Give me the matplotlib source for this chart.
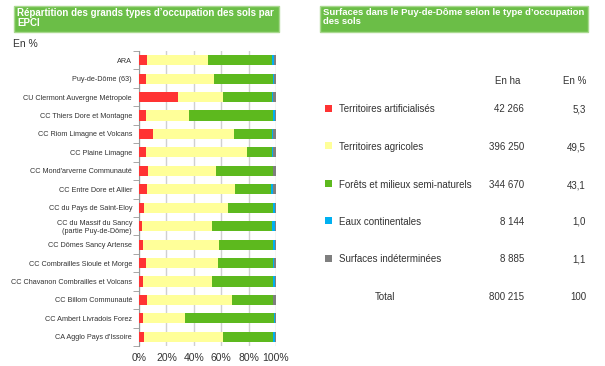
import numpy as np
import matplotlib.pyplot as plt
from matplotlib.patches import Rectangle

plt.rcParams['font.family'] = ['Liberation Sans', 'DejaVu Sans']

# EPCI labels (top to bottom)
epci = ["ARA", "Puy-de-Dôme (63)", "CU Clermont Auvergne Métropole",
        "CC Thiers Dore et Montagne", "CC Riom Limagne et Volcans",
        "CC Plaine Limagne", "CC Mond'arverne Communauté",
        "CC Entre Dore et Allier", "CC du Pays de Saint-Eloy",
        "CC du Massif du Sancy\n(partie Puy-de-Dôme)", "CC Dômes Sancy Artense",
        "CC Combrailles Sioule et Morge", "CC Chavanon Combrailles et Volcans",
        "CC Billom Communauté", "CC Ambert Livradois Forez",
        "CA Agglo Pays d'Issoire"]

# shares in %
artif = [5.6, 5.3, 28.8, 4.9, 10.2, 5.1, 6.8, 6.1, 3.7, 2.4, 3.2, 5.1, 3.2, 5.6, 2.9, 3.7]
agri = [44.4, 49.5, 32.2, 31.7, 58.8, 73.9, 49.3, 63.7, 61.4, 51.0, 55.1, 52.2, 50.2, 62.4, 30.8, 57.3]
foret = [46.8, 43.1, 35.8, 61.4, 28.1, 18.1, 41.5, 26.8, 32.9, 43.4, 39.7, 40.3, 44.6, 29.6, 65.1, 37.0]
eaux = [1.7, 1.0, 0.8, 1.3, 0.5, 0.5, 0.4, 1.4, 1.3, 2.7, 1.0, 0.7, 1.3, 0.4, 0.7, 1.0]
indet = [1.5, 1.1, 2.4, 0.7, 2.4, 2.4, 2.0, 2.0, 0.7, 0.5, 1.0, 1.7, 0.7, 2.0, 0.5, 1.0]

# table for Puy-de-Dôme
types = ["Territoires artificialisés", "Territoires agricoles",
         "Forêts et milieux semi-naturels", "Eaux continentales",
         "Surfaces indéterminées"]
surf_ha = ["42 266", "396 250", "344 670", "8 144", "8 885"]
surf_pct = ["5,3", "49,5", "43,1", "1,0", "1,1"]
total_ha = "800 215"
total_pct = "100"

colors = ["#FF3333", "#FFFF99", "#5DB91E", "#00B0F0", "#7F7F7F"]
title_green = "#6BBE47"
txt = "#333333"

W, H = 605, 366
fig = plt.figure(figsize=(W / 100, H / 100), dpi=100)

def fx(px):
    return px / W

def fy(py):
    return 1 - py / H

# left axes
ax = fig.add_axes([fx(139), fy(346), fx(276) - fx(139), fy(51) - fy(346)])
y = np.arange(len(epci))
left = np.zeros(len(epci))
for vals, c in zip([artif, agri, foret, eaux, indet], colors):
    ax.barh(y, vals, left=left, height=0.55, color=c, zorder=3)
    left += np.array(vals)

ax.set_xlim(0, 100)
ax.set_ylim(len(epci) - 0.5, -0.5)
ax.set_xticks(np.arange(0, 101, 20))
ax.set_xticklabels([f"{v}%" for v in range(0, 101, 20)], fontsize=7.5, color=txt)
ax.set_yticks(y)
ax.set_yticklabels(epci, fontsize=5.2, color=txt)
ax.set_yticks(np.arange(-0.5, len(epci), 1), minor=True)
ax.tick_params(axis='y', which='major', length=0, pad=5)
ax.tick_params(axis='y', which='minor', length=4, color="#999999")
ax.tick_params(axis='x', length=0, pad=5)
ax.grid(axis='x', color="#D0D0D0", linewidth=1, zorder=0)
for s in ["top", "right", "bottom"]:
    ax.spines[s].set_visible(False)
ax.spines["left"].set_color("#999999")

# title boxes
fig.patches.append(Rectangle((fx(14), fy(32)), fx(279) - fx(14), fy(6) - fy(32),
                             transform=fig.transFigure, facecolor=title_green,
                             edgecolor="#A9D98F", linewidth=1))
fig.text(fx(17), fy(8), "Répartition des grands types d\u2019occupation des sols par\nEPCI",
         fontsize=7.0, color="white", fontweight="bold", va="top", linespacing=1.0)
fig.patches.append(Rectangle((fx(320), fy(32)), fx(588) - fx(320), fy(6) - fy(32),
                             transform=fig.transFigure, facecolor=title_green,
                             edgecolor="#A9D98F", linewidth=1))
fig.text(fx(323), fy(8), "Surfaces dans le Puy-de-Dôme selon le type d\u2019occupation\ndes sols",
         fontsize=6.8, color="white", fontweight="bold", va="top", linespacing=1.0)

fig.text(fx(13), fy(47), "En %", fontsize=7.5, color=txt, va="baseline")

# right table
fig.text(fx(508), fy(84), "En ha", fontsize=7, color=txt, ha="center", va="baseline")
fig.text(fx(586), fy(84), "En %", fontsize=7, color=txt, ha="right", va="baseline")
row_y = [109, 147, 185, 222, 259]
for ry, t, ha_v, p, c in zip(row_y, types, surf_ha, surf_pct, colors):
    fig.patches.append(Rectangle((fx(325), fy(ry + 2.5)), fx(7), 7 / H,
                                 transform=fig.transFigure, facecolor=c, edgecolor="none"))
    fig.text(fx(339), fy(ry + 3), t, fontsize=7, color=txt, va="baseline")
    fig.text(fx(524), fy(ry + 3), ha_v, fontsize=7, color=txt, ha="right", va="baseline")
    fig.text(fx(586), fy(ry + 3), p, fontsize=7, color=txt, ha="right", va="baseline")
fig.text(fx(385), fy(300), "Total", fontsize=7, color=txt, ha="center", va="baseline")
fig.text(fx(524), fy(300), total_ha, fontsize=7, color=txt, ha="right", va="baseline")
fig.text(fx(586), fy(300), total_pct, fontsize=7, color=txt, ha="right", va="baseline")

fig.savefig("out.png", dpi=100)
